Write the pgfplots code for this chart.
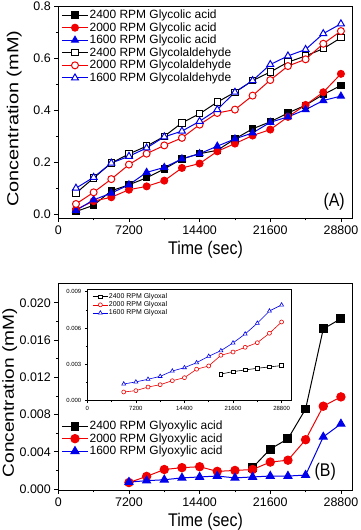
\documentclass[border=0pt]{standalone}
\usepackage{pgfplots}
\pgfplotsset{compat=1.18}
\usepackage{fontspec}
\setmainfont{Liberation Sans}
\definecolor{myblue}{RGB}{0,0,235}
\definecolor{myred}{RGB}{240,0,0}
\pgfplotsset{
  base/.style={
    scale only axis,
    xmin=0, xmax=30000,
    xtick={0,7200,14400,21600,28800},
    minor x tick num=1,
    scaled x ticks=false, scaled y ticks=false,
    xticklabel style={/pgf/number format/.cd,fixed,1000 sep={}},
    tick align=outside, xtick pos=bottom, ytick pos=left,
    axis line style={line width=0.8pt},
    every tick/.style={line width=0.8pt,black},
    /pgf/number format/assume math mode=true,
    legend cell align=left,
    legend style={draw=none,fill=none},
  },
  big/.style={
    base,
    major tick length=4bp, minor tick length=2.5bp,
    ticklabel style={font=\fontsize{12.5}{14}\selectfont},
    xlabel style={font=\fontsize{16}{18}\selectfont},
    ylabel style={font=\fontsize{16}{18}\selectfont, anchor=center},
    legend style={font=\fontsize{12}{13}\selectfont, nodes={inner sep=1.2pt}},
    legend image code/.code={\draw[mark repeat=2,mark phase=2] plot coordinates {(0bp,0bp) (13bp,0bp) (26bp,0bp)};},
  },
}
\begin{document}
\begin{tikzpicture}[x=1bp,y=1bp]
\useasboundingbox (0,0) rectangle (360,530);
% ---------------- Panel A
\begin{axis}[big,
  at={(58.3bp,312bp)}, anchor=south west,
  width=294.4bp, height=211.3bp,
  ymin=-0.015, ymax=0.8,
  ytick={0,0.2,0.4,0.6,0.8}, minor y tick num=1,
  yticklabel style={/pgf/number format/.cd,fixed,fixed zerofill,precision=1},
  xlabel={\scalebox{1}[1.15]{Time (sec)}},
  ylabel={\scalebox{1.25}[1]{Concentration (mM)}},
  ylabel style={at={(axis description cs:-0.150,0.47)}},
  legend style={at={(0.0,1.0)}, anchor=north west},
]
\addplot[black, line width=1pt, mark=square*, mark size=3.2pt] coordinates {
(1800,0.010) (3600,0.034) (5400,0.090) (7200,0.113) (9000,0.140) (10800,0.174) (12600,0.213) (14400,0.233) (16200,0.246) (18000,0.290) (19800,0.329) (21600,0.356) (23400,0.390) (25200,0.420) (27000,0.461) (28800,0.496)};
\addlegendentry{2400 RPM Glycolic acid}
\addplot[myred, line width=1pt, mark=*, mark size=3.5pt] coordinates {
(1800,0.018) (3600,0.050) (5400,0.065) (7200,0.094) (9000,0.107) (10800,0.129) (12600,0.178) (14400,0.195) (16200,0.242) (18000,0.272) (19800,0.303) (21600,0.326) (23400,0.375) (25200,0.421) (27000,0.470) (28800,0.541)};
\addlegendentry{2000 RPM Glycolic acid}
\addplot[myblue, line width=1pt, mark=triangle*, mark size=4pt] coordinates {
(1800,0.014) (3600,0.055) (5400,0.081) (7200,0.113) (9000,0.161) (10800,0.180) (12600,0.213) (14400,0.233) (16200,0.262) (18000,0.290) (19800,0.313) (21600,0.354) (23400,0.375) (25200,0.403) (27000,0.438) (28800,0.455)};
\addlegendentry{1600 RPM Glycolic acid}
\addplot[black, line width=1pt, mark=square*, mark size=3.2pt, mark options={fill=white}] coordinates {
(1800,0.081) (3600,0.139) (5400,0.197) (7200,0.232) (9000,0.262) (10800,0.300) (12600,0.352) (14400,0.387) (16200,0.432) (18000,0.470) (19800,0.515) (21600,0.548) (23400,0.586) (25200,0.610) (27000,0.638) (28800,0.680)};
\addlegendentry{2400 RPM Glycolaldehyde}
\addplot[myred, line width=1pt, mark=*, mark size=3.5pt, mark options={fill=white}] coordinates {
(1800,0.039) (3600,0.084) (5400,0.135) (7200,0.191) (9000,0.233) (10800,0.265) (12600,0.294) (14400,0.345) (16200,0.390) (18000,0.403) (19800,0.457) (21600,0.517) (23400,0.571) (25200,0.597) (27000,0.657) (28800,0.706)};
\addlegendentry{2000 RPM Glycolaldehyde}
\addplot[myblue, line width=1pt, mark=triangle*, mark size=4pt, mark options={fill=white}] coordinates {
(1800,0.100) (3600,0.142) (5400,0.197) (7200,0.223) (9000,0.255) (10800,0.298) (12600,0.320) (14400,0.358) (16200,0.403) (18000,0.470) (19800,0.515) (21600,0.577) (23400,0.610) (25200,0.635) (27000,0.696) (28800,0.734)};
\addlegendentry{1600 RPM Glycolaldehyde}
\node[anchor=south east, font=\fontsize{16}{18}\selectfont] at (rel axis cs:0.985,0.02) {\scalebox{1}[1.15]{(A)}};
\end{axis}
% ---------------- Panel B
\begin{axis}[big,
  at={(58.3bp,40bp)}, anchor=south west,
  width=294.4bp, height=206.7bp,
  ymin=-0.0001, ymax=0.0221,
  ytick={0,0.004,0.008,0.012,0.016,0.020}, minor y tick num=1,
  yticklabel style={/pgf/number format/.cd,fixed,fixed zerofill,precision=3},
  xlabel={\scalebox{1}[1.15]{Time (sec)}},
  ylabel={\scalebox{1.2}[1]{Concentration (mM)}},
  ylabel style={at={(axis description cs:-0.165,0.47)}},
  legend style={at={(0.0,0.35)}, anchor=north west},
]
\addplot[black, line width=1pt, mark=square*, mark size=4pt] coordinates {
(19800,0.0023) (21600,0.0043) (23400,0.0054) (25200,0.0086) (27000,0.0172) (28800,0.0183)};
\addlegendentry{2400 RPM Glyoxylic acid}
\addplot[myred, line width=1pt, mark=*, mark size=4.2pt] coordinates {
(7200,0.0007) (9000,0.00136) (10800,0.0021) (12600,0.0023) (14400,0.0024) (16200,0.0019) (18000,0.0020) (19800,0.0021) (21600,0.0029) (23400,0.0031) (25200,0.0053) (27000,0.0089) (28800,0.0099)};
\addlegendentry{2000 RPM Glyoxylic acid}
\addplot[myblue, line width=1pt, mark=triangle*, mark size=4.6pt] coordinates {
(7200,0.00075) (9000,0.0009) (10800,0.0010) (12600,0.0012) (14400,0.0013) (16200,0.0014) (18000,0.0012) (19800,0.0013) (21600,0.0014) (23400,0.0014) (25200,0.0015) (27000,0.0056) (28800,0.0070)};
\addlegendentry{1600 RPM Glyoxylic acid}
\node[anchor=south east, font=\fontsize{16}{18}\selectfont] at (rel axis cs:0.955,0.03) {\scalebox{1}[1.15]{(B)}};
\end{axis}
% ---------------- Inset
\begin{axis}[base,
  at={(87.3bp,129.3bp)}, anchor=south west,
  width=204.4bp, height=111.4bp,
  xmax=30300,
  ymin=0, ymax=0.0092,
  ytick={0,0.003,0.006,0.009}, minor y tick num=1,
  yticklabel style={/pgf/number format/.cd,fixed,fixed zerofill,precision=3},
  major tick length=2.5bp, minor tick length=1.5bp,
  axis line style={line width=0.6pt},
  every tick/.style={line width=0.6pt,black},
  ticklabel style={font=\fontsize{6}{7}\selectfont},
  legend style={at={(0.01,0.99)}, anchor=north west, font=\fontsize{7}{8}\selectfont, nodes={inner sep=0.8pt}},
  legend image code/.code={\draw[mark repeat=2,mark phase=2] plot coordinates {(0bp,0bp) (7.5bp,0bp) (15bp,0bp)};},
]
\addplot[black, line width=0.6pt, mark=square*, mark size=1.8pt, mark options={fill=white}] coordinates {
(19800,0.0022) (21600,0.0024) (23400,0.00254) (25200,0.00268) (27000,0.00279) (28800,0.0029)};
\addlegendentry{2400 RPM Glyoxal}
\addplot[myred, line width=0.6pt, mark=*, mark size=2pt, mark options={fill=white}] coordinates {
(5400,0.00072) (7200,0.00083) (9000,0.00113) (10800,0.00132) (12600,0.00165) (14400,0.0019) (16200,0.0026) (18000,0.00287) (19800,0.00375) (21600,0.00402) (23400,0.00441) (25200,0.00479) (27000,0.00557) (28800,0.0065)};
\addlegendentry{2000 RPM Glyoxal}
\addplot[myblue, line width=0.6pt, mark=triangle*, mark size=2.3pt, mark options={fill=white}] coordinates {
(5400,0.00138) (7200,0.00155) (9000,0.00177) (10800,0.00201) (12600,0.00245) (14400,0.00273) (16200,0.00314) (18000,0.00367) (19800,0.00413) (21600,0.00477) (23400,0.00551) (25200,0.0064) (27000,0.00741) (28800,0.00791)};
\addlegendentry{1600 RPM Glyoxal}
\end{axis}
\end{tikzpicture}
\end{document}
